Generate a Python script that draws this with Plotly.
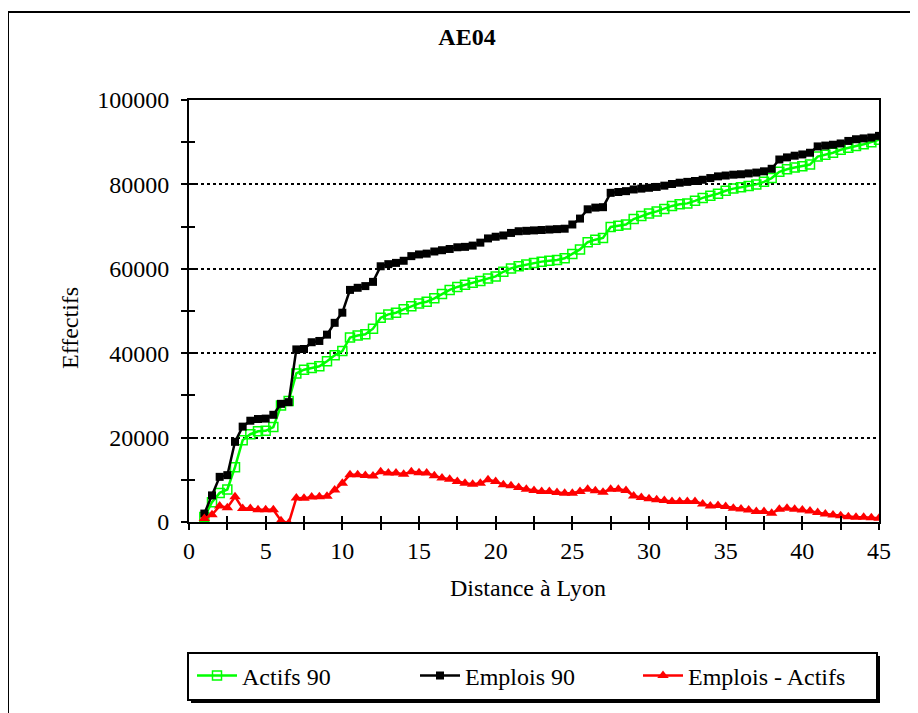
import plotly.graph_objects as go

distance = [1, 1.5, 2, 2.5, 3, 3.5, 4, 4.5, 5, 5.5, 6, 6.5, 7, 7.5, 8, 8.5, 9, 9.5, 10, 10.5,
            11, 11.5, 12, 12.5, 13, 13.5, 14, 14.5, 15, 15.5, 16, 16.5, 17, 17.5, 18, 18.5, 19, 19.5,
            20, 20.5, 21, 21.5, 22, 22.5, 23, 23.5, 24, 24.5, 25, 25.5, 26, 26.5, 27, 27.5, 28, 28.5,
            29, 29.5, 30, 30.5, 31, 31.5, 32, 32.5, 33, 33.5, 34, 34.5, 35, 35.5, 36, 36.5, 37, 37.5,
            38, 38.5, 39, 39.5, 40, 40.5, 41, 41.5, 42, 42.5, 43, 43.5, 44, 44.5, 45]

actifs_90 = [1200, 4700, 6900, 7700, 13000, 19400, 20800, 21500, 21600, 22500, 27600, 28700,
             35200, 36100, 36500, 36900, 38100, 39500, 40500, 43700, 44200, 44500, 45800, 48400,
             49200, 49600, 50400, 51100, 51800, 52200, 53000, 54000, 55000, 55700, 56200, 56700,
             57100, 57700, 58200, 59300, 60100, 60600, 61000, 61400, 61700, 61900, 62100, 62500,
             63500, 64600, 66300, 66900, 67300, 69900, 70200, 70500, 71800, 72500, 73100, 73600,
             74200, 74900, 75300, 75500, 76100, 76800, 77300, 77800, 78500, 79000, 79300, 79600,
             80000, 80600, 81500, 83000, 83600, 84000, 84300, 84700, 86600, 87000, 87500, 88200,
             88700, 89100, 89500, 90000, 90600]

emplois_90 = [2000, 6300, 10700, 11100, 19000, 22600, 24000, 24400, 24500, 25400, 28000, 28400,
              40900, 41000, 42600, 42900, 44400, 47200, 49600, 55000, 55500, 55900, 56900, 60600,
              61100, 61400, 61900, 63000, 63400, 63600, 64100, 64400, 64700, 65100, 65200, 65500,
              66200, 67200, 67600, 67900, 68500, 68900, 69000, 69100, 69200, 69300, 69400, 69500,
              70500, 71900, 74100, 74500, 74600, 78000, 78200, 78400, 78800, 79000, 79200, 79400,
              79700, 80100, 80400, 80600, 80800, 81100, 81500, 81900, 82100, 82300, 82400, 82600,
              82800, 83100, 83700, 85900, 86400, 86800, 87100, 87500, 89000, 89200, 89400, 89700,
              90300, 90700, 90900, 91100, 91500]

emplois_moins_actifs = [800, 1700, 3800, 3400, 6000, 3200, 3200, 2900, 2900, 2900, 300, -300,
                        5700, 5600, 5900, 6000, 6100, 7600, 9200, 11200, 11200, 11000, 10900, 11900,
                        11600, 11600, 11300, 11900, 11700, 11600, 10950, 10400, 10150, 9600, 9200, 8970,
                        9200, 10000, 9600, 8800, 8570, 8170, 7780, 7460, 7220, 7220, 6980, 6830,
                        6830, 7220, 7780, 7380, 7060, 7780, 7780, 7460, 6190, 5800, 5500, 5300,
                        5080, 4840, 4840, 4840, 4840, 4290, 3810, 3890, 3650, 3260, 3100, 2860,
                        2460, 2460, 2070, 3020, 3260, 3020, 2860, 2620, 2230, 1900, 1670, 1500,
                        1260, 1100, 1100, 1020, 880]

x_ticks = [0, 5, 10, 15, 20, 25, 30, 35, 40, 45]
y_ticks = [0, 20000, 40000, 60000, 80000, 100000]

FONT = "Liberation Serif"
FS = 24
PAGE_W, PAGE_H = 918, 713
OFF = 8                      # default body margin of the html page
W, H = PAGE_W - OFF, PAGE_H - OFF
L, R, T, B = 189, 879, 100, 522   # plot area in page pixels


def px(xp):
    return (xp - L) / (R - L)


def py(yp):
    return (B - yp) / (B - T)


fig = go.Figure()
fig.add_trace(go.Scatter(
    x=distance, y=actifs_90, name="Actifs 90", mode="lines+markers",
    line=dict(color="#00FF00", width=2.5),
    marker=dict(symbol="square-open", size=9, color="#00FF00", line=dict(width=1.5, color="#00FF00")),
))
fig.add_trace(go.Scatter(
    x=distance, y=emplois_90, name="Emplois 90", mode="lines+markers",
    line=dict(color="black", width=2.5),
    marker=dict(symbol="square", size=8, color="black"),
))
fig.add_trace(go.Scatter(
    x=distance, y=emplois_moins_actifs, name="Emplois - Actifs", mode="lines+markers",
    line=dict(color="#FF0000", width=2.5),
    marker=dict(symbol="triangle-up", size=10, color="#FF0000"),
))
# dummy trace for overlay axes (inside ticks -> crossing tick marks)
fig.add_trace(go.Scatter(x=[None], y=[None], xaxis="x2", yaxis="y2", showlegend=False, hoverinfo="skip"))

axis_common = dict(showline=True, linecolor="black", linewidth=2, zeroline=False,
                   tickcolor="black", tickwidth=2, ticklen=6,
                   tickfont=dict(family=FONT, size=FS, color="black"))

fig.update_layout(
    width=W, height=H,
    margin=dict(l=L - OFF, r=PAGE_W - R, t=T - OFF, b=PAGE_H - B, pad=0),
    paper_bgcolor="white", plot_bgcolor="white",
    font=dict(family=FONT, size=FS, color="black"),
    title=dict(text="<b>AE04</b>", x=(467 - OFF) / W, xref="container", xanchor="center",
               y=1 - (37 - OFF) / H, yref="container", yanchor="middle",
               font=dict(family=FONT, size=FS, color="black")),
    xaxis=dict(range=[0, 45], tickvals=x_ticks, ticks="outside", mirror=True,
               showgrid=False, ticklabelstandoff=0,
               minor=dict(ticks="outside", dtick=2.5, tick0=0, ticklen=6, tickwidth=2, tickcolor="black"),
               **axis_common),
    yaxis=dict(range=[0, 100000], tickvals=y_ticks, tickformat="d", ticks="outside", mirror=True,
               showgrid=True, gridcolor="black", griddash="dot", gridwidth=1.5,
               ticklabelstandoff=7,
               minor=dict(ticks="outside", dtick=10000, tick0=0, ticklen=6, tickwidth=2, tickcolor="black",
                          showgrid=False),
               **axis_common),
    xaxis2=dict(overlaying="x", anchor="y", side="bottom", range=[0, 45], tickvals=x_ticks,
                ticks="inside", ticklen=6, tickwidth=2, tickcolor="black", showticklabels=False,
                showline=False, showgrid=False, zeroline=False,
                minor=dict(ticks="inside", dtick=2.5, tick0=0, ticklen=6, tickwidth=2, tickcolor="black")),
    yaxis2=dict(overlaying="y", anchor="x", side="left", range=[0, 100000], tickvals=y_ticks,
                ticks="inside", ticklen=6, tickwidth=2, tickcolor="black", showticklabels=False,
                showline=False, showgrid=False, zeroline=False,
                minor=dict(ticks="inside", dtick=10000, tick0=0, ticklen=6, tickwidth=2, tickcolor="black")),
    showlegend=True,
    legend=dict(orientation="h", x=px(192), y=py(676), xanchor="left", yanchor="middle",
                bgcolor="rgba(0,0,0,0)", borderwidth=0, entrywidth=168,
                font=dict(family=FONT, size=FS, color="black"), itemwidth=40,
                tracegroupgap=0),
    annotations=[
        dict(text="Effectifs", x=px(70), y=py(328), xref="paper", yref="paper", showarrow=False,
             textangle=-90, font=dict(family=FONT, size=FS, color="black"),
             xanchor="center", yanchor="middle"),
        dict(text="Distance à Lyon", x=px(528), y=py(588), xref="paper", yref="paper", showarrow=False,
             font=dict(family=FONT, size=FS, color="black"), xanchor="center", yanchor="middle"),
    ],
    shapes=[
        # outer chart frame
        dict(type="rect", xref="paper", yref="paper", x0=px(8), x1=px(912), y0=py(740), y1=py(12),
             line=dict(color="black", width=2), layer="below"),
        # legend shadow
        dict(type="rect", xref="paper", yref="paper", x0=px(191), x1=px(880), y0=py(703), y1=py(656),
             line=dict(width=0), fillcolor="black", layer="below"),
        # legend box
        dict(type="rect", xref="paper", yref="paper", x0=px(188), x1=px(877), y0=py(700), y1=py(653),
             line=dict(color="black", width=2), fillcolor="white", layer="below"),
    ],
)

fig.write_html("out.html")
